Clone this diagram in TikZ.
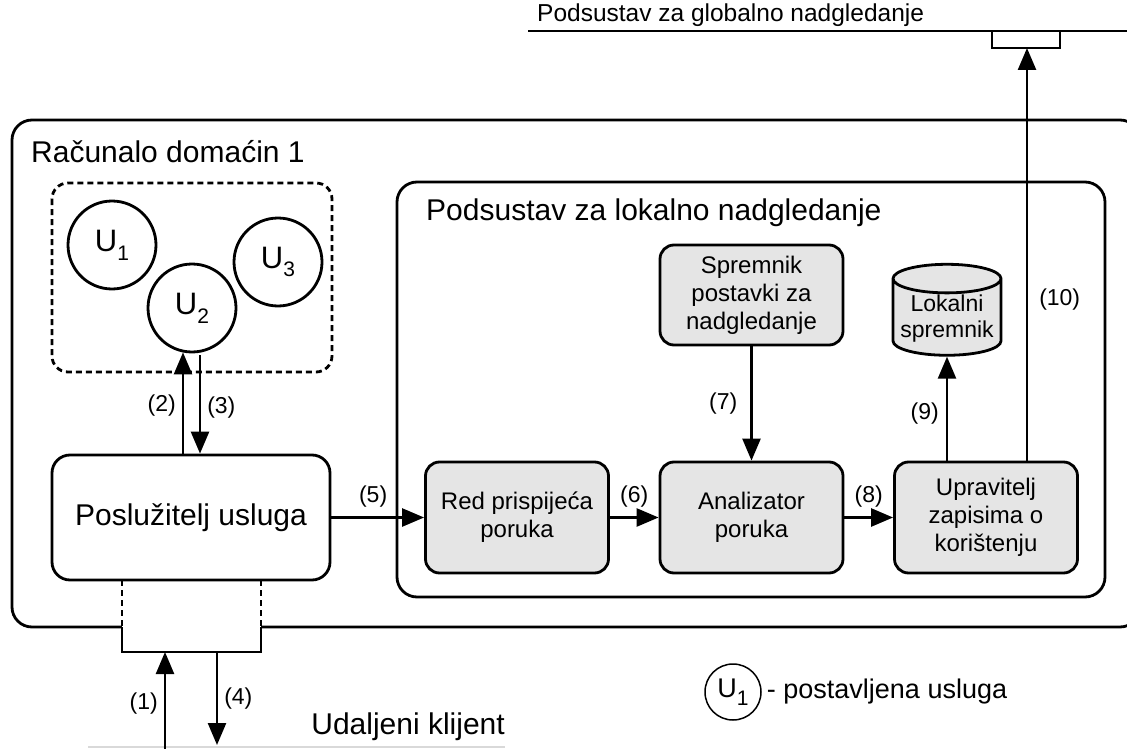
\documentclass[tikz,border=0pt]{standalone}
\usepackage{fontspec}
\setmainfont{Liberation Sans}
\usetikzlibrary{shapes.geometric,arrows.meta}

\newcommand{\usl}[1]{U\raisebox{-0.28em}{\fontsize{21}{21}\selectfont #1}}

\tikzset{
 okvir/.style={draw,line width=2.8pt,rounded corners=20pt},
 blok/.style={draw,line width=2.8pt,rounded corners=14pt,fill=gray!20,align=center,
   minimum width=183pt,minimum height=111pt,inner sep=2pt,font=\fontsize{24}{28}\selectfont},
 usluga/.style={draw,circle,line width=2.8pt,minimum size=88pt,inner sep=0pt,font=\fontsize{31}{32}\selectfont},
 oznaka/.style={font=\fontsize{23}{26}\selectfont,inner sep=1pt},
 naslov/.style={font=\fontsize{30}{33}\selectfont,inner sep=0pt},
 tok/.style={line width=2.5pt,-{Triangle[length=22pt,width=18pt]}},
}

\begin{document}
\begin{tikzpicture}[x=1pt,y=1pt]
 \useasboundingbox (0,0) rectangle (1127,-749);

 % globalni podsustav
 \node[font=\fontsize{24.5}{27}\selectfont,anchor=south west,inner sep=0pt] (globalni) at (537,-27) {Podsustav za globalno nadgledanje};
 \draw[line width=2.8pt] (528,-31) -- (1127,-31);
 \draw[line width=2.8pt] (992,-31) -- (992,-48) -- (1060,-48) -- (1060,-31);
 \coordinate (gport) at (1027,-48);

 % racunalo domacin
 \draw[okvir] (12,-120) rectangle (1140,-627);
 \node[naslov,anchor=west] (domacin) at (31,-152) {Računalo domaćin 1};

 % usluge
 \draw[line width=2.8pt,dash pattern=on 6pt off 4pt,rounded corners=16pt] (52,-183) rectangle (332,-372);
 \node[usluga] (u1) at (112,-245) {\usl{1}};
 \node[usluga] (u2) at (192,-308) {\usl{2}};
 \node[usluga] (u3) at (278,-262) {\usl{3}};

 % posluzitelj
 \node[draw,line width=2.8pt,rounded corners=18pt,fill=white,minimum width=278pt,minimum height=125pt,
   font=\fontsize{30}{33}\selectfont] (posluzitelj) at (191,-517.5) {Poslužitelj usluga};

 % prikljucak prema klijentu
 \fill[white] (122,-615) rectangle (261,-640);
 \draw[line width=2.8pt,dash pattern=on 6pt off 4pt] (122,-580) -- (122,-627);
 \draw[line width=2.8pt,dash pattern=on 6pt off 4pt] (261,-580) -- (261,-627);
 \draw[line width=2.8pt] (122,-627) -- (122,-652) -- (261,-652) -- (261,-627);
 \coordinate (ulaz) at (165,-652);
 \coordinate (izlaz) at (217,-652);

 % udaljeni klijent
 \draw[gray!30,line width=1.2pt] (88,-747) -- (505,-747);
 \node[naslov,anchor=south east] (klijent) at (505,-741) {Udaljeni klijent};
 \coordinate (k1) at (165,-749);
 \coordinate (k4) at (217,-745);

 % lokalni podsustav
 \draw[okvir] (397,-182) rectangle (1105,-597);
 \node[naslov,anchor=west] (lokalni) at (426,-213) {Podsustav za lokalno nadgledanje};

 \node[blok] (red) at (517,-517.5) {Red prispijeća\\poruka};
 \node[blok] (analizator) at (751.5,-517.5) {Analizator\\poruka};
 \node[blok] (upravitelj) at (986,-517.5) {Upravitelj\\zapisima o\\korištenju};
 \node[blok,minimum height=100pt] (postavke) at (751.5,-295) {Spremnik\\postavki za\\nadgledanje};
 \node[cylinder,shape border rotate=90,draw,line width=2.8pt,fill=gray!20,aspect=0.3,
   minimum width=108pt,minimum height=88pt,inner sep=1pt,align=center,
   font=\fontsize{23}{26}\selectfont] (spremnik) at (947,-319) {Lokalni\\spremnik};

 % tokovi
 \draw[tok] (k1) -- (ulaz) node[oznaka,pos=0.47,left=5pt] {(1)};
 \draw[tok] (izlaz) -- (k4) node[oznaka,pos=0.5,right=5pt] {(4)};
 \draw[tok] ([xshift=-9pt]u2.south |- posluzitelj.north) -- ([xshift=-9pt,yshift=1pt]u2.south)
   node[oznaka,pos=0.47,left=5pt] {(2)};
 \draw[tok] ([xshift=8pt,yshift=-2pt]u2.south) -- ([xshift=8pt]u2.south |- posluzitelj.north)
   node[oznaka,pos=0.53,right=5pt] {(3)};
 \draw[tok] (posluzitelj) -- (red) node[oznaka,pos=0.45,above=8pt] {(5)};
 \draw[tok] (red) -- (analizator) node[oznaka,pos=0.5,above=8pt] {(6)};
 \draw[tok] (postavke) -- (analizator) node[oznaka,pos=0.5,left=12pt] {(7)};
 \draw[tok] (analizator) -- (upravitelj) node[oznaka,pos=0.5,above=8pt] {(8)};
 \draw[tok] (spremnik.south |- upravitelj.north) -- (spremnik.south) node[oznaka,pos=0.45,left=6pt] {(9)};
 \draw[tok] (gport |- upravitelj.north) -- (gport) node[oznaka,pos=0.39,right=10pt] {(10)};

 % legenda
 \node[draw,circle,line width=1.5pt,minimum size=56pt,inner sep=0pt,font=\fontsize{27}{28}\selectfont]
   (legenda) at (733,-692) {\usl{1}};
 \node[font=\fontsize{27}{30}\selectfont,inner sep=0pt,anchor=west] (opis) at ([xshift=5pt]legenda.east) {- postavljena usluga};
\end{tikzpicture}
\end{document}
